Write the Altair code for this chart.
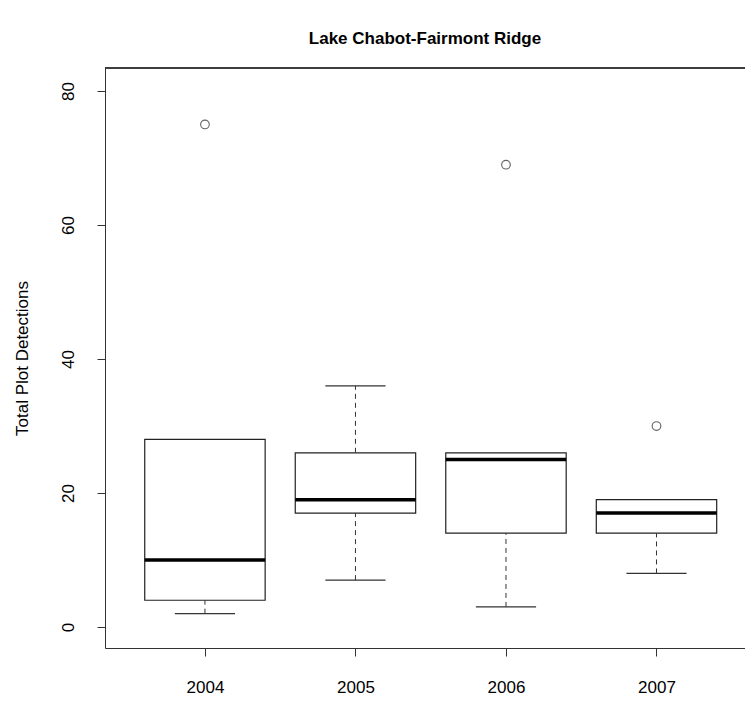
import altair as alt
import pandas as pd

years = ["2004", "2005", "2006", "2007"]
pos = [1, 2, 3, 4]
lower_whisker = [2, 7, 3, 8]
q1 = [4, 17, 14, 14]
median = [10, 19, 25, 17]
q3 = [28, 26, 26, 19]
upper_whisker = [28, 36, 26, 19]
outlier_pos = [1, 3, 4]
outlier_val = [75, 69, 30]

FONT = "Liberation Sans"
W, H = 640, 580
XDOM = [0.336, 4.588]
YDOM = [-3.13, 83.43]

df = pd.DataFrame({
    "year": years, "pos": pos, "lo": lower_whisker, "q1": q1,
    "med": median, "q3": q3, "hi": upper_whisker,
})
df["left"] = df["pos"] - 0.4
df["right"] = df["pos"] + 0.4
df["cl"] = df["pos"] - 0.2
df["cr"] = df["pos"] + 0.2
out = pd.DataFrame({"pos": outlier_pos, "val": outlier_val})

xscale = alt.Scale(domain=XDOM, nice=False, zero=False)
yscale = alt.Scale(domain=YDOM, nice=False, zero=False)

label_expr = "datum.value == 1 ? '2004' : datum.value == 2 ? '2005' : datum.value == 3 ? '2006' : '2007'"

xaxis = alt.Axis(values=pos, labelExpr=label_expr, title=None, grid=False,
                 tickSize=8, labelPadding=23, labelFontSize=17, labelFont=FONT,
                 labelColor="black", domainColor="#333333", tickColor="#333333",
                 labelBaseline="top", labelFlush=False)
yaxis = alt.Axis(values=[0, 20, 40, 60, 80], title="Total Plot Detections", grid=False,
                 tickSize=8, labelPadding=20, labelFontSize=17, labelFont=FONT,
                 labelAngle=270, labelAlign="center", labelBaseline="bottom",
                 labelColor="black", domainColor="#333333", tickColor="#333333",
                 titleFont=FONT, titleFontSize=17, titleFontWeight="normal",
                 titleColor="black", titleAngle=270, titleX=-83, titleY=H / 2,
                 titleAlign="center", titleBaseline="middle", labelFlush=False)

base = alt.Chart(df)

whisk_up = base.mark_rule(color="#333333", strokeDash=[5, 4], strokeWidth=1).encode(
    x=alt.X("pos:Q", scale=xscale, axis=xaxis),
    y=alt.Y("q3:Q", scale=yscale, axis=yaxis),
    y2="hi:Q",
)
whisk_lo = base.mark_rule(color="#333333", strokeDash=[5, 4], strokeWidth=1).encode(
    x=alt.X("pos:Q", scale=xscale),
    y=alt.Y("lo:Q", scale=yscale),
    y2="q1:Q",
)
cap_lo = base.mark_rule(color="#333333", strokeWidth=1.2).encode(
    x=alt.X("cl:Q", scale=xscale), x2="cr:Q",
    y=alt.Y("lo:Q", scale=yscale),
)
cap_hi = base.transform_filter("datum.hi > datum.q3").mark_rule(color="#333333", strokeWidth=1.2).encode(
    x=alt.X("cl:Q", scale=xscale), x2="cr:Q",
    y=alt.Y("hi:Q", scale=yscale),
)
box = base.mark_rect(fill="white", stroke="#222222", strokeWidth=1.2).encode(
    x=alt.X("left:Q", scale=xscale), x2="right:Q",
    y=alt.Y("q1:Q", scale=yscale), y2="q3:Q",
)
med = base.mark_rule(color="black", strokeWidth=3.5).encode(
    x=alt.X("left:Q", scale=xscale), x2="right:Q",
    y=alt.Y("med:Q", scale=yscale),
)
pts = alt.Chart(out).mark_point(shape="circle", filled=False, color="#222222",
                                 size=75, strokeWidth=1.1).encode(
    x=alt.X("pos:Q", scale=xscale),
    y=alt.Y("val:Q", scale=yscale),
)
top_rule = alt.Chart(df).mark_rule(color="#333333", strokeWidth=1.2).encode(
    x=alt.value(0), x2=alt.value(W), y=alt.value(0),
)

chart = alt.layer(whisk_up, whisk_lo, cap_lo, cap_hi, box, med, pts, top_rule).properties(
    width=W, height=H,
    title=alt.TitleParams("Lake Chabot-Fairmont Ridge", font=FONT, fontSize=17,
                          fontWeight="bold", color="black", anchor="middle", offset=19),
    autosize=alt.AutoSizeParams(type="none"),
    padding={"left": 97, "top": 60, "right": 0, "bottom": 50},
).configure_view(stroke=None).configure(background="white")

chart.save("out.html", embed_options={"renderer": "svg", "actions": False})
